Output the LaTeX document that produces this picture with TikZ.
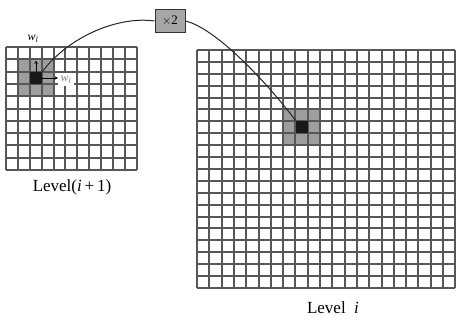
\documentclass[tikz,border=0pt]{standalone}
\usepackage{fontspec}
\setmainfont{Liberation Serif}
\usetikzlibrary{arrows.meta}
\tikzset{
  gridline/.style={draw=black!66, line width=2pt},
  darkcell/.style={fill=black!90, draw=none, inner sep=0pt},
  conn/.style={draw=black!85, line width=1pt},
  scalebox/.style={draw=black!80, fill=black!35, line width=1pt, minimum width=30pt, minimum height=23pt, inner sep=0pt, font=\fontsize{13}{13}\selectfont},
  lvl/.style={font=\fontsize{17}{17}\selectfont, inner sep=0pt},
  wlab/.style={font=\fontsize{12}{12}\selectfont\itshape, inner sep=0.5pt},
  tinyarrow/.style={draw=black, line width=0.9pt, -{Stealth[length=3pt,width=3.5pt]}}
}
\begin{document}
\begin{tikzpicture}[x=1pt,y=-1pt]
\useasboundingbox[fill=white] (0,0) rectangle (461,320);
% shaded neighbourhoods
\fill[black!38] ({round(6+1*11.9)},{round(47+1*12.3)}) rectangle ({round(6+4*11.9)},{round(47+4*12.3)});
\fill[black!38] ({round(197+7*12.3)},{round(50+5*11.9)}) rectangle ({round(197+10*12.3)},{round(50+8*11.9)});
% small grid 11 x 10
\foreach \i in {0,...,11} \draw[gridline] ({round(6+\i*11.9)},47) -- ({round(6+\i*11.9)},{round(47+10*12.3)});
\foreach \j in {0,...,10} \draw[gridline] (6,{round(47+\j*12.3)}) -- ({round(6+11*11.9)},{round(47+\j*12.3)});
% big grid 21 x 20
\foreach \i in {0,...,21} \draw[gridline] ({round(197+\i*12.3)},50) -- ({round(197+\i*12.3)},{round(50+20*11.9)});
\foreach \j in {0,...,20} \draw[gridline] (197,{round(50+\j*11.9)}) -- ({round(197+21*12.3)},{round(50+\j*11.9)});
% dark cells
\node[darkcell, minimum width=12pt, minimum height=12pt] (sc) at (36,78) {};
\node[darkcell, minimum width=12pt, minimum height=12pt] (bc) at (302,127) {};
% scale box
\node[scalebox] (box) at (170,21) {$\times$2};
% connectors
\draw[conn] (sc.north east) .. controls (70,35) and (120,16) .. (box.west);
\draw[conn] (box.east) .. controls (215,28) and (265,80) .. (bc.north west);
% w labels and arrows
\node[wlab] (wtop) at (33,39) {w\textsubscript{\itshape l}};
\coordinate (upend) at ([yshift=11pt]sc.north);
\draw[tinyarrow] (sc.north) -- (upend);
\node[wlab, fill=white, text=black!50, minimum width=16pt, minimum height=13pt] (wright) at (66,80) {w\textsubscript{\itshape l}};
\draw[tinyarrow] (sc.east) -- (sc.east -| wright.west);
% level labels
\node[lvl] (l1) at (72,187) {Level(\textit{i}\,+\,1)};
\node[lvl] (l0) at (333,308) {Level~~\textit{i}};
\end{tikzpicture}
\end{document}
